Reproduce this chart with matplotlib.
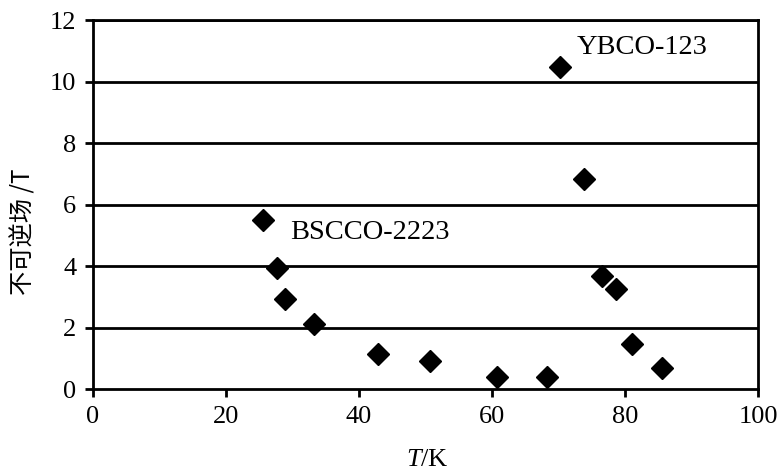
import matplotlib.pyplot as plt

plt.rcParams['font.family'] = ['Liberation Serif', 'DejaVu Serif']
plt.rcParams['mathtext.fontset'] = 'custom'
plt.rcParams['mathtext.rm'] = 'Liberation Serif'
plt.rcParams['mathtext.it'] = 'Liberation Serif:italic'

# irreversibility field vs temperature
bscco_T = [25.5, 27.7, 28.8, 33.3, 42.9, 50.7, 60.7, 68.2]
bscco_B = [5.5, 3.93, 2.93, 2.1, 1.14, 0.9, 0.39, 0.39]
ybco_T = [70.3, 73.8, 76.5, 78.6, 81.0, 85.6]
ybco_B = [10.47, 6.83, 3.67, 3.25, 1.46, 0.68]

x_ticks = [0, 20, 40, 60, 80, 100]
y_ticks = [0, 2, 4, 6, 8, 10, 12]

fig = plt.figure(figsize=(7.79, 4.70), dpi=100)
ax = fig.add_axes([93 / 779, 1 - 389 / 470, 665 / 779, 369 / 470])

for y in y_ticks[1:]:
    ax.axhline(y, color='black', lw=2.0, zorder=1)

ax.plot(bscco_T, bscco_B, 'D', color='black', ms=11, zorder=3, clip_on=False)
ax.plot(ybco_T, ybco_B, 'D', color='black', ms=11, zorder=3, clip_on=False)

ax.text(72.7, 11.1, 'YBCO-123', fontsize=20.5, va='center', ha='left')
ax.text(29.6, 5.1, 'BSCCO-2223', fontsize=20.5, va='center', ha='left')

ax.set_xlim(0, 100)
ax.set_ylim(0, 12)
ax.set_xticks(x_ticks)
ax.set_yticks(y_ticks)
ax.tick_params(direction='out', length=6, width=2, labelsize=19, pad=6)

for sp in ax.spines.values():
    sp.set_linewidth(2.0)

ax.set_xlabel('$T$/K', fontsize=19)
ax.xaxis.set_label_coords(0.503, -0.162)
ax.set_ylabel('不可逆场 /T', fontsize=17.5,
              family=['Noto Sans CJK SC', 'DejaVu Sans'])
ax.yaxis.set_label_coords(-0.085, 0.425)

fig.savefig('out.png', dpi=100)
